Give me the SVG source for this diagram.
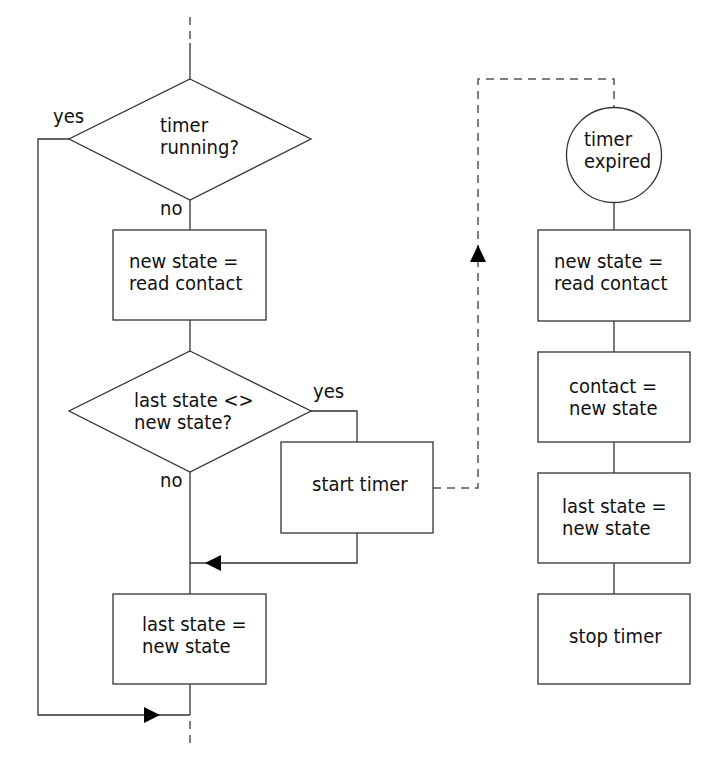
<svg xmlns="http://www.w3.org/2000/svg" width="720" height="765" viewBox="0 0 720 765">
<style>
.shape{fill:#fff;stroke:#333;stroke-width:1.3}
.ln{fill:none;stroke:#333;stroke-width:1.3}
.dash{fill:none;stroke:#555;stroke-width:1.5;stroke-dasharray:8,6}
.arr{fill:#000;stroke:none}
text{font-family:"DejaVu Sans Condensed","DejaVu Sans",sans-serif;font-stretch:condensed;font-size:20px;fill:#111}
</style>
<rect width="720" height="765" fill="#fff"/>
<g id="connectors">
<path class="dash" d="M190,17 V43"/>
<path class="ln" d="M190,43 V79"/>
<path class="ln" d="M190,200 V230"/>
<path class="ln" d="M190,320 V351"/>
<path class="ln" d="M311,411 H357 V442"/>
<path class="ln" d="M357,533 V563 H190"/>
<path class="ln" d="M190,472 V594"/>
<path class="ln" d="M190,684 V715"/>
<path class="dash" d="M190,721 V746"/>
<path class="ln" d="M69,139 H38 V715 H190"/>
<path class="dash" d="M433,488 H478 V79 H614 V107"/>
<path class="ln" d="M614,202 V230"/>
<path class="ln" d="M614,321 V352"/>
<path class="ln" d="M614,442 V473"/>
<path class="ln" d="M614,563 V594"/>
<polygon class="arr" points="144,707 160,715 144,723"/>
<polygon class="arr" points="205,563 221,555 221,571"/>
<polygon class="arr" points="478,245 470,262 486,262"/>
</g>
<g id="lbl-yes1"><text x="53" y="123">yes</text></g>
<g id="lbl-no1"><text x="160" y="215">no</text></g>
<g id="lbl-yes2"><text x="313" y="398">yes</text></g>
<g id="lbl-no2"><text x="160" y="487">no</text></g>
<g id="timer-running">
<polygon class="shape" points="190,79 311,139 190,200 69,139"/>
<text x="160" y="132">timer</text>
<text x="160" y="154">running?</text>
</g>
<g id="read-contact-1">
<rect class="shape" x="113" y="230" width="153" height="90"/>
<text x="129" y="268">new state =</text>
<text x="129" y="290">read contact</text>
</g>
<g id="state-changed">
<polygon class="shape" points="190,351 311,411 190,472 69,411"/>
<text x="134" y="407">last state &lt;&gt;</text>
<text x="134" y="429">new state?</text>
</g>
<g id="start-timer">
<rect class="shape" x="281" y="442" width="152" height="91"/>
<text x="312" y="491">start timer</text>
</g>
<g id="last-state-1">
<rect class="shape" x="113" y="594" width="153" height="90"/>
<text x="142" y="631">last state =</text>
<text x="142" y="653">new state</text>
</g>
<g id="timer-expired">
<circle class="shape" cx="614" cy="155" r="47.5"/>
<text x="584" y="146">timer</text>
<text x="584" y="168">expired</text>
</g>
<g id="read-contact-2">
<rect class="shape" x="538" y="230" width="152" height="91"/>
<text x="554" y="268">new state =</text>
<text x="554" y="290">read contact</text>
</g>
<g id="contact-new">
<rect class="shape" x="538" y="352" width="152" height="90"/>
<text x="569" y="393">contact =</text>
<text x="569" y="415">new state</text>
</g>
<g id="last-state-2">
<rect class="shape" x="538" y="473" width="152" height="90"/>
<text x="562" y="513">last state =</text>
<text x="562" y="535">new state</text>
</g>
<g id="stop-timer">
<rect class="shape" x="538" y="594" width="152" height="90"/>
<text x="569" y="643">stop timer</text>
</g>
</svg>
